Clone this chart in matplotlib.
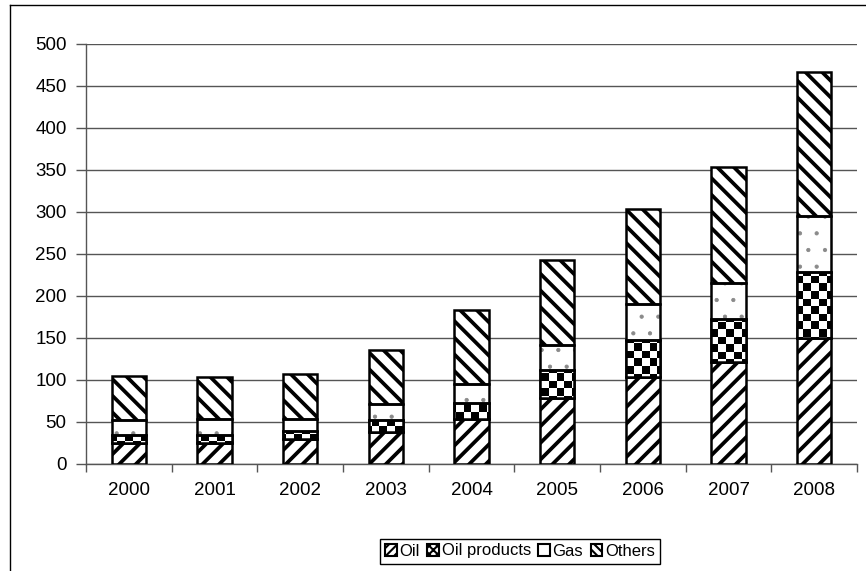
import numpy as np
import matplotlib
matplotlib.use("Agg")
import matplotlib.pyplot as plt
from matplotlib.patches import Patch
from matplotlib.lines import Line2D

plt.rcParams["font.family"] = ["Liberation Sans", "DejaVu Sans"]

# ---------------------------------------------------------------------------
# Data
# ---------------------------------------------------------------------------
years = ["2000", "2001", "2002", "2003", "2004", "2005", "2006", "2007", "2008"]
oil = [25, 25, 30, 38, 54, 78, 103, 122, 150]
oil_products = [10, 9, 9, 14, 19, 34, 45, 51, 79]
gas = [17, 19, 15, 20, 22, 30, 43, 43, 66]
others = [53, 50, 53, 64, 88, 101, 113, 138, 172]
y_ticks = [0, 50, 100, 150, 200, 250, 300, 350, 400, 450, 500]

FS = 13.5
EDGE_LW = 1.8
WIDTH = 0.4
STRIPE_LW = 2.7

fig = plt.figure(figsize=(8.66, 5.71), dpi=100)
ax = fig.add_axes([86 / 866, 1 - 464 / 571, 771 / 866, 420 / 571])

x = np.arange(len(years))
b1 = np.array(oil, dtype=float)
b2 = b1 + np.array(oil_products)
b3 = b2 + np.array(gas)

# Oil: thick "/" stripes
plt.rcParams["hatch.linewidth"] = STRIPE_LW
ax.bar(x, oil, WIDTH, color="white", edgecolor="black", hatch="//",
       linewidth=EDGE_LW, zorder=3)

# Oil products: checkerboard clipped to each bar
prod_bars = ax.bar(x, oil_products, WIDTH, bottom=b1, color="white",
                   edgecolor="black", linewidth=EDGE_LW, zorder=3)
ny, nx = 56, 100
checker = (np.add.outer(np.arange(ny), np.arange(nx)) % 2).astype(float)
for bar in prod_bars:
    im = ax.imshow(checker, cmap="gray", extent=(-0.5, 8.5, 0, 500),
                   aspect="auto", interpolation="nearest", zorder=3.5,
                   origin="lower")
    im.set_clip_path(bar)
ax.bar(x, oil_products, WIDTH, bottom=b1, fill=False,
       edgecolor="black", linewidth=EDGE_LW, zorder=4)

# Gas: sparse grey dots
plt.rcParams["hatch.linewidth"] = 0.6
ax.bar(x, gas, WIDTH, bottom=b2, color="white", edgecolor="#8a8a8a",
       hatch=".", linewidth=0, zorder=3)
ax.bar(x, gas, WIDTH, bottom=b2, fill=False, edgecolor="black",
       linewidth=EDGE_LW, zorder=4)

# Others: thick "\" stripes
plt.rcParams["hatch.linewidth"] = STRIPE_LW
ax.bar(x, others, WIDTH, bottom=b3, color="white", edgecolor="black",
       hatch="\\\\", linewidth=EDGE_LW, zorder=3)

ax.set_xlim(-0.5, len(years) - 0.5)
ax.set_ylim(0, 500)
ax.set_yticks(y_ticks)
ax.set_yticklabels([str(v) for v in y_ticks], fontsize=FS)
ax.set_xticks(x)
ax.set_xticklabels(years, fontsize=FS)
ax.set_xticks(np.arange(-0.5, len(years)), minor=True)
ax.tick_params(axis="x", which="major", length=0, pad=13)
ax.tick_params(axis="x", which="minor", length=6, width=1, color="#555555")
ax.tick_params(axis="y", length=7, width=1, color="#555555", pad=7)

ax.grid(True, axis="y", color="#555555", linewidth=1, zorder=0)
for s in ("top", "right"):
    ax.spines[s].set_visible(False)
for s in ("left", "bottom"):
    ax.spines[s].set_color("#555555")
    ax.spines[s].set_linewidth(1)

# Legend
plt.rcParams["hatch.linewidth"] = 1.5
handles = [
    Patch(facecolor="white", edgecolor="black", hatch="////", linewidth=1.5),
    Patch(facecolor="white", edgecolor="black", hatch="xxxx", linewidth=1.5),
    Patch(facecolor="white", edgecolor="black", linewidth=1.5),
    Patch(facecolor="white", edgecolor="black", hatch="\\\\\\\\", linewidth=1.5),
]
fig.legend(handles, ["Oil", "Oil products", "Gas", "Others"],
           loc="center", bbox_to_anchor=(520 / 866, 1 - 551 / 571),
           ncol=4, fontsize=12, frameon=True, fancybox=False,
           edgecolor="black", framealpha=1, handlelength=0.7,
           handleheight=0.7, handletextpad=0.15, columnspacing=0.45,
           borderpad=0.3, borderaxespad=0)

# Chart area border (top and left)
fig.add_artist(Line2D([10 / 866, 10 / 866], [0, 1 - 5 / 571],
                      transform=fig.transFigure, color="black", linewidth=1))
fig.add_artist(Line2D([10 / 866, 1], [1 - 5 / 571, 1 - 5 / 571],
                      transform=fig.transFigure, color="black", linewidth=1))

fig.savefig("out.png", dpi=100)
